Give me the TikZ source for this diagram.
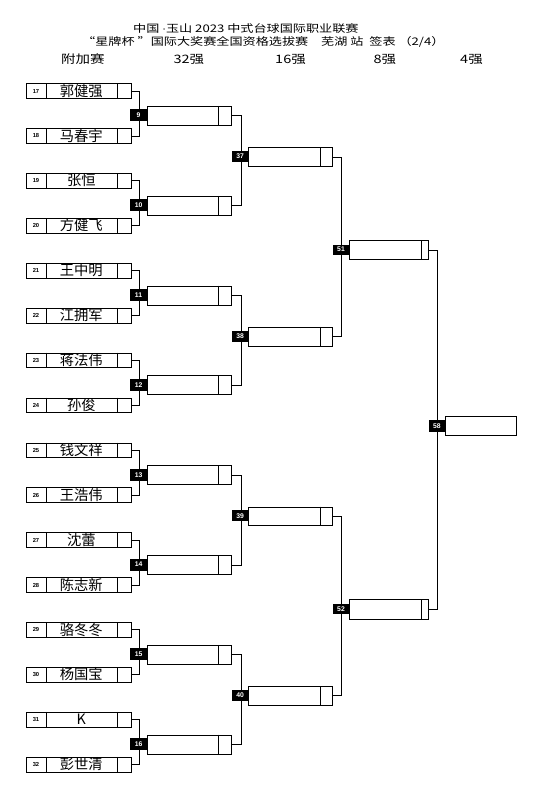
\documentclass[tikz,border=0pt]{standalone}
\usepackage{fontspec}
\setmainfont{Noto Sans CJK SC}
\newfontfamily\hdfont[FakeStretch=1.25]{Noto Sans CJK SC}
\newfontfamily\latf{Liberation Sans}
\begin{document}
\begin{tikzpicture}[x=1pt,y=-1pt,
  bx/.style={draw=black,line width=0.9pt},
  ln/.style={draw=black,line width=0.9pt},
  pl/.style={bx,fill=white,inner sep=0pt,minimum width=104.7pt,minimum height=14.7pt,anchor=north west},
  mbox/.style={bx,fill=white,inner sep=0pt,anchor=north west},
  lab/.style={fill=black,text=white,inner sep=0pt,font=\latf\bfseries\fontsize{6.8}{7}\selectfont,anchor=west},
  num/.style={inner sep=0pt,font=\latf\bfseries\fontsize{5.8}{6}\selectfont},
  nm/.style={inner sep=0pt,font=\fontsize{14.3}{15}\selectfont},
  hd/.style={inner sep=0pt,anchor=base west,font=\hdfont\fontsize{10.5}{12}\selectfont},
  hd3/.style={inner sep=0pt,anchor=base west,font=\hdfont\fontsize{11.6}{13}\selectfont}]
\useasboundingbox[fill=white] (0,0) rectangle (536,789);
% headings
\node[hd] (t1) at (133,32.5) {中国 {\latf\fontsize{11}{12}\selectfont ·}玉山 2023 中式台球国际职业联赛};
\node[hd] (t2a) at (82,45.5) {“星牌杯 ”国际大奖赛全国资格选拔赛};
\node[hd] (t2b) at (321,45.5) {芜湖 站 \ 签表 （2/4）};
\node[hd3] (h0) at (61,63.5) {附加赛};
\node[hd3] (h1) at (173.3,63.5) {32强};
\node[hd3] (h2) at (275,63.5) {16强};
\node[hd3] (h3) at (373.3,63.5) {8强};
\node[hd3] (h4) at (460,63.5) {4强};
% players
\foreach \i/\nm in {0/郭健强,1/马春宇,2/张恒,3/方健飞,4/王中明,5/江拥军,6/蒋法伟,7/孙俊,8/钱文祥,9/王浩伟,10/沈蕾,11/陈志新,12/骆冬冬,13/杨国宝,14/K,15/彭世清}{
  \pgfmathsetmacro\t{83.3+\i*44.9}
  \pgfmathtruncatemacro\n{17+\i}
  \node[pl] (p\n) at (26,\t) {};
  \draw[bx] ([xshift=20pt]p\n.north west) -- ([xshift=20pt]p\n.south west);
  \draw[bx] ([xshift=-14pt]p\n.north east) -- ([xshift=-14pt]p\n.south east);
  \node[num] (pn\n) at ([xshift=10pt]p\n.west) {\n};
  \node[nm] (pt\n) at ([xshift=55.3pt,yshift=0.3pt]p\n.west) {\nm};
}
% round 1 matches
\foreach \j in {0,...,7}{
  \pgfmathsetmacro\t{106+\j*89.8}
  \pgfmathtruncatemacro\n{9+\j}
  \pgfmathtruncatemacro\a{17+2*\j}
  \pgfmathtruncatemacro\b{18+2*\j}
  \draw[ln] (p\a.east) -- ++(8.3,0) |- (p\b.east);
  \node[mbox,minimum width=84.6pt,minimum height=19pt] (m\n) at (146.7,\t) {};
  \draw[bx] ([xshift=-14pt]m\n.north east) -- ([xshift=-14pt]m\n.south east);
  \node[lab,minimum width=16.7pt,minimum height=12pt] (l\n) at (130,\t+9.5) {\n};
}
% round 2 matches
\foreach \k in {0,...,3}{
  \pgfmathsetmacro\t{147.3+\k*179.6}
  \pgfmathtruncatemacro\n{37+\k}
  \pgfmathtruncatemacro\a{9+2*\k}
  \pgfmathtruncatemacro\b{10+2*\k}
  \draw[ln] (m\a.east) -- ++(9.4,0) |- (m\b.east);
  \node[mbox,minimum width=84pt,minimum height=18.7pt] (m\n) at (248.3,\t) {};
  \draw[bx] ([xshift=-13pt]m\n.north east) -- ([xshift=-13pt]m\n.south east);
  \node[lab,minimum width=16.6pt,minimum height=11pt] (l\n) at (231.7,\t+9.35) {\n};
}
% round 3 matches
\foreach \m in {0,1}{
  \pgfmathsetmacro\t{240+\m*359.2}
  \pgfmathtruncatemacro\n{51+\m}
  \pgfmathtruncatemacro\a{37+2*\m}
  \pgfmathtruncatemacro\b{38+2*\m}
  \draw[ln] (m\a.east) -- ++(8.7,0) |- (m\b.east);
  \node[mbox,minimum width=79pt,minimum height=19.3pt] (m\n) at (349.3,\t) {};
  \draw[bx] ([xshift=-7.6pt]m\n.north east) -- ([xshift=-7.6pt]m\n.south east);
  \node[lab,minimum width=17pt,minimum height=10pt] (l\n) at (332.3,\t+9.65) {\n};
}
% final
\draw[ln] (m51.east) -- ++(8.4,0) |- (m52.east);
\node[mbox,minimum width=70.7pt,minimum height=19.3pt] (m58) at (445,416) {};
\node[lab,minimum width=16.7pt,minimum height=12pt] (l58) at (428.3,426) {58};
\end{tikzpicture}
\end{document}
